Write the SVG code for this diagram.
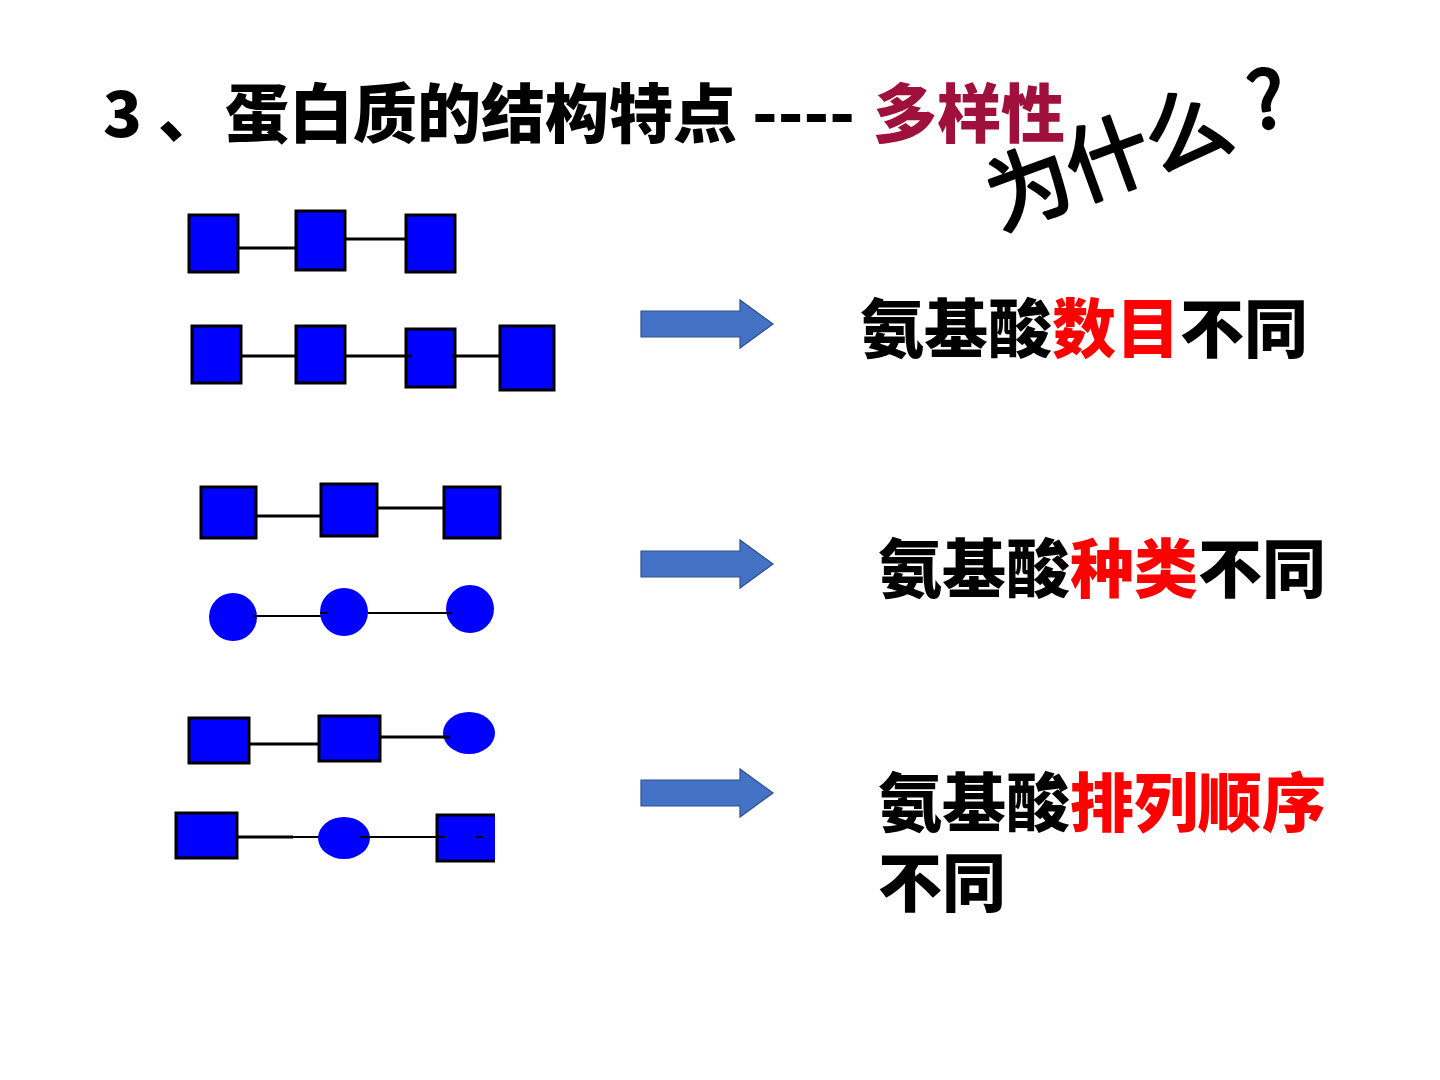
<svg xmlns="http://www.w3.org/2000/svg" width="1440" height="1080" viewBox="0 0 1440 1080">
<style>
.t{font-family:"Noto Sans CJK SC","Noto Sans",sans-serif;font-weight:900;font-size:64px;fill:#000}
.red{fill:#FF0000}
.sq{fill:#0000FF;stroke:#000;stroke-width:3}
.bl{fill:#0000FF}
.ln{stroke:#000;stroke-width:3;fill:none}
.ln2{stroke:#000;stroke-width:2;fill:none}
.ar{fill:#4472C4;stroke:#2F4F8F;stroke-width:1.2}
.hw{font-family:"Noto Sans CJK SC",sans-serif;font-weight:normal;font-size:84px;fill:#000;stroke:#000;stroke-width:3;stroke-linejoin:round}
</style>
<rect width="1440" height="1080" fill="#fff"/>
<g id="title">
<text class="t" x="103" y="137">3</text>
<text class="t" x="158" y="137">、</text>
<text class="t" x="225" y="137" textLength="512" lengthAdjust="spacingAndGlyphs">蛋白质的结构特点</text>
<text class="t" x="752" y="137" textLength="103" lengthAdjust="spacingAndGlyphs">----</text>
<text class="t" x="873" y="137" style="fill:#A0103C" textLength="192" lengthAdjust="spacingAndGlyphs">多样性</text>
</g>
<g id="why">
<text class="hw" transform="translate(1000,230) rotate(-20)">为什么</text>
<text class="hw" transform="translate(1252,130) rotate(-8)" style="font-size:78px">?</text>
</g>
<g id="connectors">
<line class="ln" x1="238" y1="248" x2="296" y2="248"/>
<line class="ln" x1="345" y1="239" x2="406" y2="239"/>
<line class="ln" x1="241" y1="356" x2="296" y2="356"/>
<line class="ln" x1="345" y1="356" x2="412" y2="356"/>
<line class="ln" x1="452" y1="356" x2="500" y2="356"/>
<line class="ln" x1="256" y1="516" x2="321" y2="516"/>
<line class="ln" x1="377" y1="508" x2="444" y2="508"/>
<line class="ln2" x1="253" y1="616" x2="328" y2="616"/>
<line class="ln2" x1="368" y1="613" x2="452" y2="613"/>
<line class="ln" x1="249" y1="744" x2="319" y2="744"/>
<line class="ln" x1="380" y1="737" x2="450" y2="737"/>
<line class="ln" x1="237" y1="837" x2="293" y2="837"/>
<line class="ln2" x1="293" y1="837" x2="330" y2="837"/>
<line class="ln2" x1="360" y1="837" x2="495" y2="837"/>
</g>
<g id="row1">
<rect class="sq" x="189" y="215" width="49" height="57"/>
<rect class="sq" x="296" y="211" width="49" height="59"/>
<rect class="sq" x="406" y="215" width="49" height="57"/>
</g>
<g id="row2">
<rect class="sq" x="192" y="326" width="49" height="57"/>
<rect class="sq" x="296" y="326" width="49" height="57"/>
<rect class="sq" x="406" y="329" width="49" height="58"/>
<rect class="sq" x="500" y="326" width="54" height="64"/>
<line class="ln" x1="406" y1="356" x2="412" y2="356"/>
<line class="ln" x1="452" y1="356" x2="455" y2="356"/>
</g>
<g id="row3">
<rect class="sq" x="201" y="487" width="55" height="51"/>
<rect class="sq" x="321" y="484" width="56" height="52"/>
<rect class="sq" x="444" y="487" width="56" height="51"/>
</g>
<g id="row4">
<circle class="bl" cx="233" cy="617" r="24"/>
<circle class="bl" cx="344" cy="612" r="24"/>
<circle class="bl" cx="470" cy="609" r="24"/>
<line class="ln2" x1="253" y1="616" x2="262" y2="616"/>
<line class="ln2" x1="328" y1="613" x2="320" y2="613"/>
<line class="ln2" x1="446" y1="613" x2="452" y2="613"/>
</g>
<g id="row5">
<rect class="sq" x="189" y="718" width="60" height="45"/>
<rect class="sq" x="319" y="716" width="61" height="45"/>
<ellipse class="bl" cx="469" cy="733" rx="26" ry="21"/>
<line class="ln" x1="443" y1="737" x2="450" y2="737"/>
</g>
<g id="row6">
<rect class="sq" x="176" y="813" width="61" height="45"/>
<ellipse class="bl" cx="344" cy="838" rx="26" ry="21"/>
<path class="bl" d="M495,815 H437 V861 H495 Z"/>
<path d="M495,815 H437 V861 H495" fill="none" stroke="#000" stroke-width="3"/>
<line class="ln2" x1="360" y1="837" x2="370" y2="837"/>
<line class="ln2" x1="437" y1="837" x2="495" y2="837" stroke-dasharray="8 30"/>
</g>
<g id="arrow1"><path class="ar" d="M641,311 H740 V300 L773,324 L740,348 V337 H641 Z"/></g>
<g id="arrow2"><path class="ar" d="M641,551 H740 V540 L773,564 L740,588 V577 H641 Z"/></g>
<g id="arrow3"><path class="ar" d="M641,780 H740 V769 L773,793 L740,817 V806 H641 Z"/></g>
<g id="label1"><text class="t" x="860" y="352">氨基酸<tspan class="red">数目</tspan>不同</text></g>
<g id="label2"><text class="t" x="878" y="592">氨基酸<tspan class="red">种类</tspan>不同</text></g>
<g id="label3"><text class="t" x="878" y="826">氨基酸<tspan class="red">排列顺序</tspan></text><text class="t" x="878" y="906">不同</text></g>
</svg>
